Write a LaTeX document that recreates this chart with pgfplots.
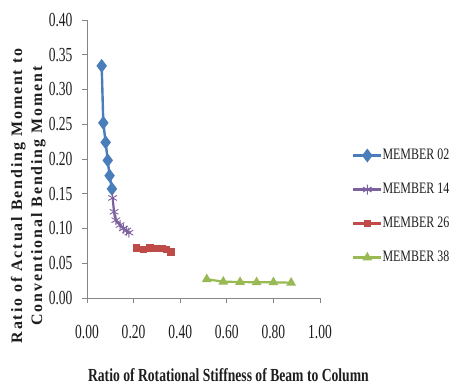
\documentclass[border=0pt]{standalone}
\usepackage{fontspec}
\setmainfont{Liberation Serif}
\newfontfamily\tickfont[FakeStretch=0.68]{Liberation Serif}
\newfontfamily\legfont[FakeStretch=0.75]{Liberation Serif}
\newfontfamily\labfont[FakeStretch=0.74]{Liberation Serif}
\newfontfamily\ylabfont[LetterSpace=12]{Liberation Serif}
\usepackage{pgfplots}
\pgfplotsset{compat=1.18}
\definecolor{axisgray}{RGB}{134,134,134}
\definecolor{sblue}{RGB}{74,126,187}
\definecolor{spurple}{RGB}{125,96,160}
\definecolor{sred}{RGB}{190,75,72}
\definecolor{sgreen}{RGB}{152,185,84}
\definecolor{txt}{RGB}{30,30,30}
\begin{document}
\begin{tikzpicture}
\begin{axis}[
  scale only axis, width=233bp, height=278bp,
  xmin=0, xmax=1, ymin=0, ymax=0.4,
  axis lines=left, axis line style={-, draw=axisgray, line width=0.8pt},
  xtick={0,0.2,0.4,0.6,0.8,1.0},
  ytick={0,0.05,0.10,0.15,0.20,0.25,0.30,0.35,0.40},
  tick align=outside, major tick length=5bp,
  tick style={axisgray, line width=0.8pt},
  xticklabel style={font=\tickfont\fontsize{20}{20}\selectfont, text=txt, anchor=center, yshift=-29bp},
  yticklabel style={font=\tickfont\fontsize{20}{20}\selectfont, text=txt, xshift=-6bp},
  /pgf/number format/.cd, fixed, fixed zerofill, precision=2, assume math mode=true,
  /pgfplots/.cd,
  xlabel={Ratio of Rotational Stiffness of Beam to Column},
  xlabel style={font=\labfont\bfseries\fontsize{18.5}{18.5}\selectfont, text=txt, at={(axis description cs:0.607,-0.277)}, anchor=center},
  ylabel={Ratio of Actual Bending Moment to\\Conventional Bending Moment},
  ylabel style={font=\ylabfont\bfseries\fontsize{16}{20}\selectfont, text=txt, align=center, at={(axis description cs:-0.252,0.367)}, anchor=center},
  legend style={draw=none, fill=none, at={(axis description cs:1.137,0.329)}, anchor=west,
    inner sep=0pt, row sep=20bp, font=\legfont\fontsize{16}{16}\selectfont, text=txt,
    nodes={inner sep=0pt, text height=11bp, text depth=3bp}},
  legend cell align=left,
  every even column/.append style={column sep=2bp},
  legend image code/.code={\draw[mark repeat=2,mark phase=2,#1] plot coordinates {(0bp,0bp) (14bp,0bp) (28bp,0bp)};},
]
\addplot[sblue, line width=2.4bp, mark=diamond*, mark size=5bp, mark options={fill=sblue}] coordinates {
  (0.063,0.334) (0.070,0.252) (0.080,0.224) (0.089,0.198) (0.097,0.176) (0.107,0.157)
};
\addlegendentry{MEMBER 02}
\addplot[spurple, line width=2.2bp, mark=asterisk, mark size=5bp, mark options={line width=0.9bp}] coordinates {
  (0.110,0.144) (0.116,0.124) (0.124,0.112) (0.142,0.105) (0.156,0.100) (0.170,0.097) (0.180,0.094)
};
\addlegendentry{MEMBER 14}
\addplot[sred, line width=2.4bp, mark=square*, mark size=2.5bp, mark options={fill=sred}] coordinates {
  (0.213,0.072) (0.242,0.070) (0.270,0.072) (0.299,0.071) (0.325,0.071) (0.342,0.070) (0.361,0.066)
};
\addlegendentry{MEMBER 26}
\addplot[sgreen, line width=2.2bp, mark=triangle*, mark size=3.5bp, mark options={fill=sgreen}] coordinates {
  (0.514,0.027) (0.585,0.0235) (0.657,0.023) (0.728,0.0226) (0.800,0.0226) (0.876,0.022)
};
\addlegendentry{MEMBER 38}
\end{axis}
\pgfresetboundingbox
\path (-87bp,-87bp) rectangle (367bp,298bp);
\end{tikzpicture}
\end{document}
